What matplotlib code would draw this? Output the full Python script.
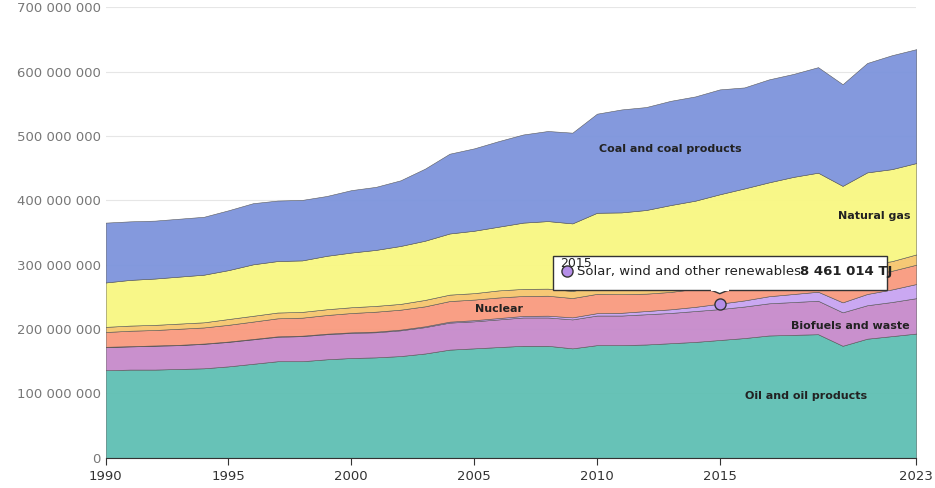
import numpy as np
import matplotlib.pyplot as plt
from matplotlib.ticker import FuncFormatter
from matplotlib.patches import Rectangle, Polygon

years = list(range(1990, 2024))

# values in millions of TJ
oil = [136, 137, 137, 138, 139, 142, 146, 150, 150, 153, 155, 156, 158, 162, 168, 170, 172,
       174, 174, 170, 175, 175, 176, 178, 180, 183, 186, 190, 191, 192, 174, 185, 189, 193]
biofuels = [36, 36, 37, 37, 38, 38, 38, 38, 39, 39, 39, 39, 40, 41, 42, 42, 43,
            44, 44, 45, 46, 46, 47, 47, 48, 48, 49, 50, 51, 52, 52, 52, 53, 55]
renewables = [0.4, 0.4, 0.5, 0.5, 0.5, 0.6, 0.6, 0.7, 0.7, 0.8, 0.9, 1.0, 1.1, 1.3, 1.5, 1.8, 2.1,
              2.4, 2.8, 3.2, 3.7, 4.3, 5.0, 5.7, 6.5, 8.46, 9.5, 11, 12.5, 14, 15.5, 17.5, 19.5, 22]
nuclear = [23, 24, 24, 25, 25, 26, 27, 28, 28, 29, 30, 31, 31, 31, 32, 32, 32,
           31, 31, 30, 30, 29, 27, 27, 28, 29, 29, 29, 30, 31, 29, 30, 29, 30]
hydro = [8, 8, 8, 8, 8, 9, 9, 9, 9, 9, 9, 9, 9, 10, 10, 10, 11,
         11, 11, 11, 12, 12, 12, 13, 13, 13, 13, 14, 14, 14, 15, 15, 15, 16]
gas = [69, 71, 72, 73, 74, 76, 80, 80, 80, 83, 85, 87, 90, 92, 95, 97, 99,
       103, 105, 105, 114, 115, 118, 122, 124, 128, 132, 134, 138, 140, 137, 144, 143, 142]
coal = [93, 91, 90, 90, 90, 93, 95, 94, 94, 93, 97, 98, 102, 112, 124, 128, 133,
        137, 140, 141, 154, 160, 160, 162, 162, 163, 157, 160, 160, 164, 158, 170, 177, 177]

series = [oil, biofuels, renewables, nuclear, hydro, gas, coal]
colors = ['#5fbfb3', '#c68acb', '#c7a3f2', '#f99a7e', '#f6c56e', '#f8f782', '#7d94dc']

scale = 1e6
data = np.array(series) * scale

fig, ax = plt.subplots(figsize=(9.35, 4.88), dpi=100)
fig.subplots_adjust(left=0.113, right=0.98, top=0.985, bottom=0.062)
ax.stackplot(years, data, colors=colors, edgecolor='#555555', linewidth=0.4, alpha=0.95)

ax.set_xlim(1990, 2023)
ax.set_ylim(0, 700e6)
ax.set_yticks(np.arange(0, 701e6, 100e6))
ax.yaxis.set_major_formatter(FuncFormatter(lambda v, p: f'{int(v):,}'.replace(',', ' ')))
ax.set_xticks([1990, 1995, 2000, 2005, 2010, 2015, 2023])
ax.grid(axis='y', color='#e6e6e6', linewidth=0.8)
ax.set_axisbelow(True)
for s in ['top', 'right', 'left']:
    ax.spines[s].set_visible(False)
ax.spines['bottom'].set_color('#333333')
ax.tick_params(axis='y', length=0, colors='#777777', labelsize=9.5)
ax.tick_params(axis='x', length=5, colors='#333333', labelsize=9.5)

lab = dict(fontsize=8, fontweight='bold', color='#222222', ha='center', va='center')
ax.text(2013, 480e6, 'Coal and coal products', **lab)
ax.text(2021.3, 375e6, 'Natural gas', **lab)
ax.text(2006, 231e6, 'Nuclear', **lab)
ax.text(2020.3, 204e6, 'Biofuels and waste', **lab)
ax.text(2018.5, 96e6, 'Oil and oil products', **lab)

# tooltip
t = 2015
ypt = sum(s[years.index(t)] for s in series[:3]) * scale
ax.plot(t, ypt, 'o', ms=8, mfc='#b58ee8', mec='#333333', mew=1)
ax.add_patch(Polygon([(t - 0.35, 312e6 - 60e6 * 0 - 0e6), (t, 0), (t, 0)], visible=False))
box_bottom, box_top = 255e6, 315e6
ax.add_patch(Rectangle((2008.2, box_bottom + 5e6), 13.6, 53e6, fc='white', ec='#333333', lw=1, zorder=5))
ax.add_patch(Polygon([(t - 0.35, box_bottom + 5.5e6), (t + 0.35, box_bottom + 5.5e6), (t, box_bottom)],
                     fc='white', ec='#333333', lw=1, zorder=6))
ax.plot([t - 0.33, t + 0.33], [box_bottom + 5.5e6, box_bottom + 5.5e6], color='white', lw=1.5, zorder=7)
ax.text(2008.5, 302e6, '2015', fontsize=9, color='#222222', va='center', zorder=8)
ax.plot(2008.8, 290e6, 'o', ms=8, mfc='#b58ee8', mec='#333333', mew=1, zorder=8)
ax.text(2009.2, 290e6, 'Solar, wind and other renewables: ', fontsize=9.5, va='center',
        color='#222222', zorder=8)
ax.text(2018.25, 290e6, '8 461 014 TJ', fontsize=9.5, va='center', fontweight='bold',
        color='#222222', zorder=8)

fig.savefig('out.png')
